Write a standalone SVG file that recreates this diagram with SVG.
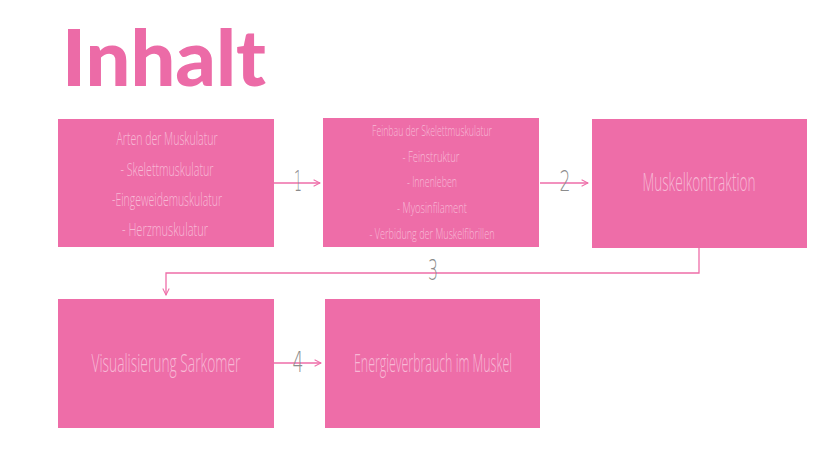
<svg xmlns="http://www.w3.org/2000/svg" width="828" height="466" viewBox="0 0 828 466">
<defs>
<style>
.box{fill:#EE6DA8;}
.t{font-family:"Open Sans","Liberation Sans",sans-serif;font-weight:300;fill:#F7B8D5;text-anchor:middle;}
.c{fill:none;stroke:#EE6DA8;stroke-width:1.3;}
.n{font-family:"DejaVu Sans","Liberation Sans",sans-serif;font-weight:200;fill:#8c8c8c;text-anchor:middle;}
</style>
<marker id="ah" viewBox="0 0 10 10" refX="9" refY="5" markerWidth="8" markerHeight="8" markerUnits="userSpaceOnUse" orient="auto">
<path d="M1,1 L9,5 L1,9" fill="none" stroke="#EE6DA8" stroke-width="1.3"/>
</marker>
</defs>
<rect width="828" height="466" fill="#ffffff"/>
<text x="62" y="86" font-family="Lato,'Open Sans',sans-serif" font-weight="900" font-size="78" fill="#EC6BA7" textLength="204" lengthAdjust="spacingAndGlyphs">Inhalt</text>
<g id="connectors">
<path class="c" d="M274,183 H320" marker-end="url(#ah)"/>
<path class="c" d="M540,183 H588" marker-end="url(#ah)"/>
<path class="c" d="M699,248 V273 H166 V295" marker-end="url(#ah)"/>
<path class="c" d="M274,363 H321" marker-end="url(#ah)"/>
<text class="n" x="298" y="191" font-size="29" textLength="8" lengthAdjust="spacingAndGlyphs">1</text>
<text class="n" x="565" y="191" font-size="29" textLength="11" lengthAdjust="spacingAndGlyphs">2</text>
<text class="n" x="433" y="280" font-size="28" textLength="10" lengthAdjust="spacingAndGlyphs">3</text>
<text class="n" x="298" y="372" font-size="28" textLength="11" lengthAdjust="spacingAndGlyphs">4</text>
</g>
<g id="n1">
<rect class="box" x="58" y="119" width="216" height="128"/>
<text class="t" x="167" y="145" font-size="18" textLength="101" lengthAdjust="spacingAndGlyphs">Arten der Muskulatur</text>
<text class="t" x="167" y="176" font-size="18" textLength="93" lengthAdjust="spacingAndGlyphs">- Skelettmuskulatur</text>
<text class="t" x="167" y="206" font-size="18" textLength="110" lengthAdjust="spacingAndGlyphs">-Eingeweidemuskulatur</text>
<text class="t" x="165" y="236" font-size="18" textLength="86" lengthAdjust="spacingAndGlyphs">- Herzmuskulatur</text>
</g>
<g id="n2">
<rect class="box" x="323" y="118" width="216" height="129"/>
<text class="t" x="432" y="136" font-size="15" textLength="120" lengthAdjust="spacingAndGlyphs">Feinbau der Skelettmuskulatur</text>
<text class="t" x="431" y="162" font-size="15" textLength="57" lengthAdjust="spacingAndGlyphs">- Feinstruktur</text>
<text class="t" x="432" y="187" font-size="15" textLength="50" lengthAdjust="spacingAndGlyphs">- Innenleben</text>
<text class="t" x="432" y="213" font-size="15" textLength="70" lengthAdjust="spacingAndGlyphs">- Myosinfilament</text>
<text class="t" x="432" y="239" font-size="15" textLength="125" lengthAdjust="spacingAndGlyphs">- Verbidung der Muskelfibrillen</text>
</g>
<g id="n3">
<rect class="box" x="592" y="119" width="215" height="129"/>
<text class="t" x="699" y="191" font-size="25" textLength="113" lengthAdjust="spacingAndGlyphs">Muskelkontraktion</text>
</g>
<g id="n4">
<rect class="box" x="58" y="299" width="216" height="129"/>
<text class="t" x="166" y="372" font-size="25" textLength="149" lengthAdjust="spacingAndGlyphs">Visualisierung Sarkomer</text>
</g>
<g id="n5">
<rect class="box" x="325" y="299" width="215" height="129"/>
<text class="t" x="433" y="372" font-size="25" textLength="158" lengthAdjust="spacingAndGlyphs">Energieverbrauch im Muskel</text>
</g>
</svg>
